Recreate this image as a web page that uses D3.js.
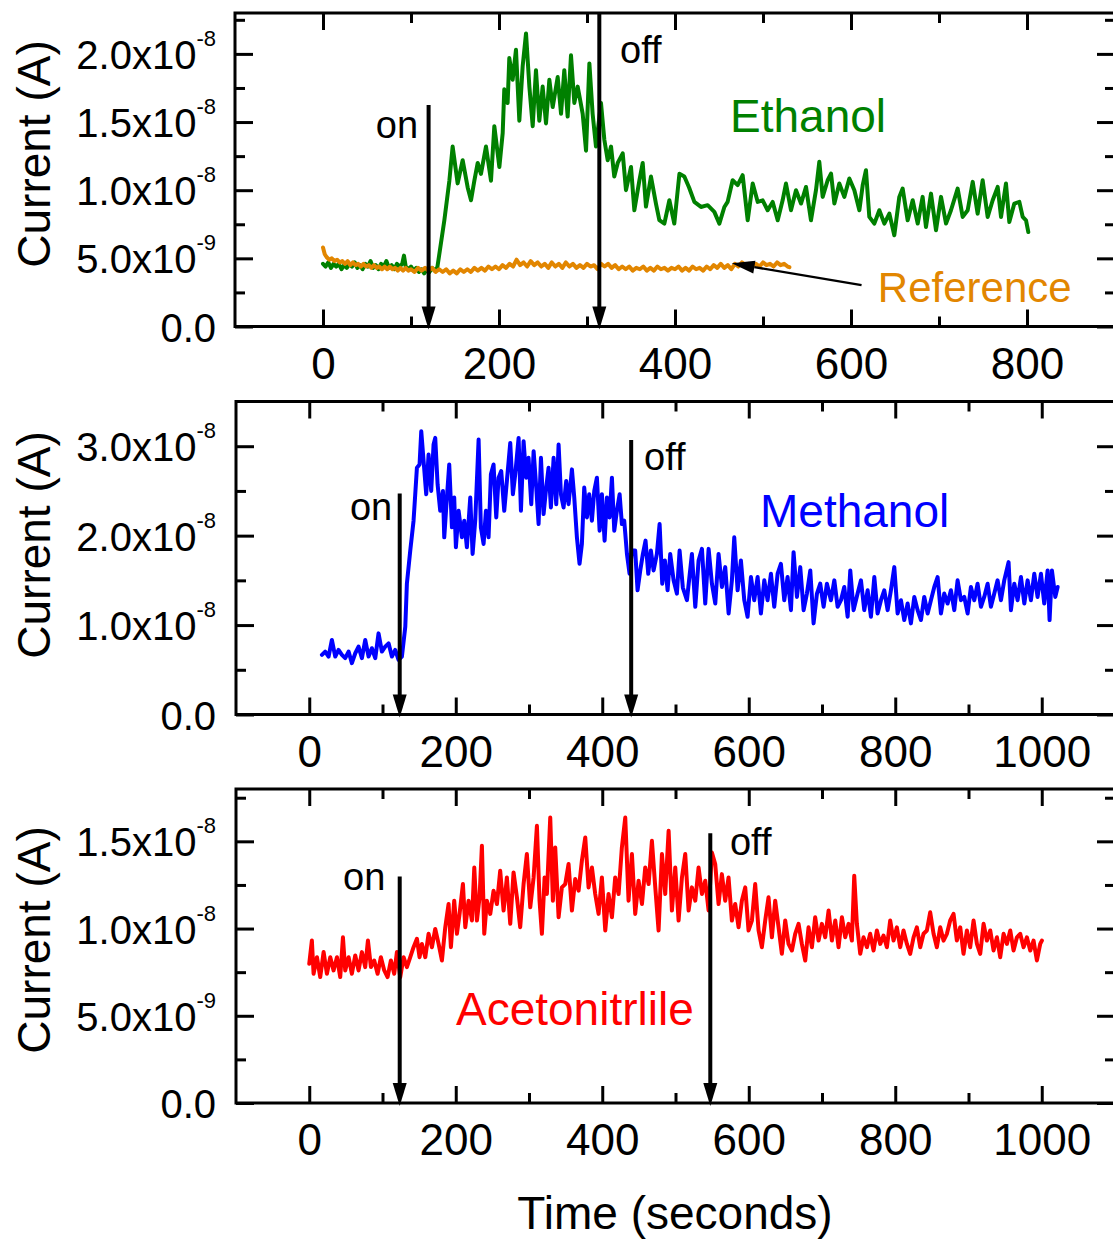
<!DOCTYPE html>
<html>
<head>
<meta charset="utf-8">
<script src="https://cdn.jsdelivr.net/npm/d3@7"></script>
<style>
  body { margin: 0; background: #fff; }
  svg { display: block; font-family: "Liberation Sans", Arial, sans-serif; }
</style>
</head>
<body>
<svg id="chart" width="1113" height="1239"></svg>
<script>
// time in seconds, current in nA (x1e-9 A)
const ethanol = [
  [0,4.6],[3,4.4],[6,4.7],[9,4.3],[12,4.6],[15,4.4],[18,4.6],[21,4.2],[24,4.5],[27,4.3],[30,4.6],[33,4.4],
  [36,4.7],[39,4.3],[42,4.5],[45,4.2],[48,4.6],[51,4.4],[54,4.8],[57,4.3],[60,4.5],[63,4.2],[66,4.6],[69,4.4],
  [72,4.8],[75,4.3],[78,4.5],[81,4.2],[84,4.6],[87,4.4],[90,4.6],[92,5.2],[94,4.4],[97,4.2],[100,4.4],[103,4.1],
  [106,4.3],[109,4.0],[112,4.2],[115,3.9],[118,4.2],[121,4.0],[124,4.3],[127,4.1],[130,4.36],
  [137.9,7.79],[143.6,10.7],[147.3,13.2],[153,10.5],[158.7,12.2],[164.4,10.2],[168.2,9.26],[172,10.7],[175.8,12.0],
  [179.5,11.2],[185.2,13.2],[190.9,10.7],[194.7,14.7],[200.4,11.7],[204.2,14.2],[206,17.4],[209.8,16.4],[211.7,19.7],
  [215.5,18.1],[219.3,20.3],[223.1,15.1],[226.9,19.1],[230.7,21.5],[234.5,17.6],[238.3,14.7],[242,18.8],[245.8,15.1],
  [249.6,17.6],[253.4,14.9],[257.2,18.1],[261,16.1],[266.7,18.3],[270.5,15.6],[274.2,18.8],[278,15.4],[281.8,19.9],
  [285.6,16.4],[289.4,17.6],[295.1,15.6],[298.9,12.9],[302.7,19.3],[306.4,15.6],[310.2,13.2],[315.9,16.4],[319.7,13.7],
  [323.5,12.2],[327.3,13.2],[331,11.0],[334.9,12.0],[340.6,12.7],[344.3,10.0],[350,11.7],[353.8,8.53],[359.5,10.7],
  [363.3,12.0],[367,8.8],[372.7,11.0],[378.4,9.0],[382.2,7.8],[387.9,7.55],[393.6,9.26],[399.2,7.55],[405,11.2],
  [410.6,11.0],[416,10.2],[422,9.14],[429.5,8.77],[437.1,8.9],[444.7,8.41],[450.4,7.55],[456.1,8.77],[459.8,9.14],
  [465.5,10.73],[471.2,10.37],[476.9,11.1],[482.6,7.79],[488.3,10.49],[494,9.14],[499.6,9.26],[505.3,8.53],[511,9.14],
  [516.7,7.79],[522.3,9.26],[526.1,10.49],[531.8,8.53],[537.5,10.0],[543.2,9.02],[548.9,10.24],[554.5,7.79],[560.2,10.0],
  [564,12.08],[567.8,9.51],[573.5,10.73],[577.3,11.22],[581.1,9.02],[586.7,10.49],[592.4,9.51],[598.1,10.86],[603.8,10.0],
  [609.5,8.53],[613.3,10.37],[617,11.47],[620.8,8.04],[626.5,7.55],[632.2,8.53],[637.9,7.55],[643.6,8.28],[649.2,6.69],
  [654.9,9.51],[658.7,10.12],[664.4,7.79],[670.1,9.26],[675.8,7.55],[681.4,9.51],[685.2,7.3],[690.9,9.75],[696.6,7.06],
  [702.3,9.51],[708,7.55],[713.6,8.53],[721.2,10.12],[726.9,8.04],[732.6,8.53],[738.3,10.61],[743.9,8.28],[749.6,10.73],
  [755.3,8.04],[761,9.26],[766.7,10.24],[770.5,8.04],[776.1,10.49],[779.9,7.67],[785.6,9.02],[791.3,9.14],[795.1,8.04],
  [798.9,7.79],[801.5,6.93]
];

const reference = [
  [0,5.8],[2,5.3],[4,5.1],[7,4.9],[10,5.0],[13,4.8],[16,4.9],[19,4.7],[22,4.8],[25,4.6],[28,4.8],[31,4.5],[34,4.7],
  [37,4.5],[40,4.6],[43,4.4],[46,4.6],[49,4.4],[52,4.5],[55,4.3],[58,4.5],[61,4.3],[64,4.4],[67,4.2],[70,4.4],[73,4.2],
  [76,4.4],[79,4.2],[82,4.3],[85,4.1],[88,4.3],[91,4.1],[94,4.3],[97,4.1],[100,4.2],[104,4.0],[108,4.3],[112,4.1],
  [116,4.3],[120,4.1],[124,4.3],[128,4.0],[132,4.2],[136,4.0],[140,4.2],[144,3.9],[148,4.1],[152,3.9],[156,4.2],
  [160,4.0],[164,4.2],[168,4.0],[172,4.3],[176,4.1],[180,4.3],[184,4.1],[188,4.4],[192,4.2],[196,4.4],[200,4.2],
  [204,4.5],[208,4.3],[212,4.6],[216,4.4],[220,4.9],[224,4.5],[228,4.7],[232,4.4],[236,4.8],[240,4.5],[244,4.7],
  [248,4.4],[252,4.6],[256,4.3],[260,4.7],[264,4.4],[268,4.6],[272,4.3],[276,4.7],[280,4.4],[284,4.6],[288,4.3],
  [292,4.5],[296,4.3],[300,4.6],[304,4.4],[308,4.5],[312,4.2],[316,4.6],[320,4.4],[324,4.6],[328,4.3],[332,4.5],
  [336,4.2],[340,4.4],[344,4.2],[348,4.4],[352,4.1],[356,4.3],[360,4.2],[364,4.4],[368,4.1],[372,4.3],[376,4.1],
  [380,4.4],[384,4.2],[388,4.3],[392,4.1],[396,4.3],[400,4.2],[404,4.4],[408,4.1],[412,4.3],[416,4.1],[420,4.4],
  [424,4.2],[428,4.3],[432,4.1],[436,4.4],[440,4.2],[444,4.5],[448,4.3],[452,4.6],[456,4.3],[460,4.5],[464,4.2],
  [468,4.6],[472,4.4],[476,4.7],[480,4.5],[484,4.6],[488,4.4],[492,4.6],[496,4.4],[500,4.7],[504,4.5],[508,4.6],
  [512,4.4],[516,4.7],[520,4.5],[524,4.6],[528,4.4],[530,4.35]
];

const methanol = [
  [17.3,6.67],[21.8,7.04],[26.4,6.48],[30.9,8.33],[35.5,6.48],[40,7.22],[44.6,6.67],[49.1,6.3],[53.7,7.04],[58.2,5.74],
  [62.8,6.85],[67.3,7.59],[71.9,6.3],[76.4,8.33],[81,6.48],[85.5,7.41],[90.1,6.3],[94.6,9.07],[99.2,7.04],[103.7,7.59],
  [108.3,7.96],[112.8,6.48],[117.4,7.22],[121.9,6.11],[126.5,6.48],[131.1,9.81],[133.3,14.63],[137.9,18.33],[142.4,21.67],
  [144.7,24.63],[147,27.6],[150.6,27.96],[152.9,31.67],[156.1,28.33],[159.7,24.63],[162.9,29.07],[166.5,25.0],[169.7,30.19],
  [172,30.93],[175.2,25.74],[178.8,22.78],[182.5,25.0],[184.3,19.81],[187.9,24.26],[191.1,27.96],[194.8,20.93],[197.9,24.26],
  [200.2,18.7],[203.9,22.78],[208.4,19.81],[211.6,21.67],[215.2,18.7],[219.8,24.26],[223,17.96],[226.6,21.67],[231.2,30.74],
  [234.3,20.93],[238,19.07],[241.2,22.78],[244.8,19.81],[248,26.85],[251.6,27.96],[255.3,22.04],[258.5,26.48],[262.1,27.22],
  [266.2,22.78],[269.8,26.11],[274.4,30.37],[278,24.63],[281.2,26.85],[285.8,30.93],[289,22.78],[292.6,30.56],[296.2,26.48],
  [299.4,28.7],[303.1,23.52],[306.3,29.44],[309.9,25.37],[313.1,21.3],[316.3,28.7],[319.9,22.41],[323.5,25.37],[326.7,27.59],
  [329.9,23.15],[333.6,28.7],[337.2,23.52],[340.4,30.19],[343.6,24.63],[347.2,23.15],[350.8,26.11],[354,23.52],[358.6,27.41],
  [361.8,24.26],[365.4,19.81],[369,16.85],[372.2,19.07],[375.4,25.37],[379.1,22.04],[382.2,24.63],[385.9,21.67],[389.1,25.0],
  [392.7,26.48],[396.4,20.56],[399.5,24.63],[403.2,19.44],[406.4,24.26],[410,22.04],[413.2,26.48],[416.4,20.56],[420,22.78],
  [423.7,24.63],[426.8,21.3],[430,21.67],[433.7,17.96],[437.3,15.74],[440.5,18.33],[445,18.33],[448.2,13.89],[451.9,16.11],
  [455.5,17.96],[459.1,19.44],[462.8,15.74],[466.4,18.33],[470.1,16.11],[474.6,17.96],[478.3,21.3],[481.9,14.63],[485.5,17.22],
  [489.2,13.89],[492.8,17.96],[497.4,15.0],[501.9,13.52],[505.6,18.33],[510,14.2],[515.6,12.78],[522.4,17.96],[527,12.04],
  [531.5,17.22],[536.1,18.52],[540.6,12.41],[545.2,18.52],[549.7,14.63],[554.3,12.41],[558.8,17.96],[563.4,14.26],[567.9,16.48],
  [572.5,11.3],[577,15.0],[580.2,19.81],[584.8,13.89],[589.3,17.22],[593.9,12.78],[598.4,10.93],[603,15.37],[607.5,12.78],
  [612.1,15.37],[616.6,11.3],[621.2,15.0],[625.7,12.78],[630.3,15.74],[634.8,12.04],[639.4,15.74],[643.9,16.85],[648.5,12.78],
  [653,15.37],[657.6,11.67],[661.2,18.15],[665.8,13.15],[670.3,16.48],[674.9,11.67],[679.4,13.52],[684,16.11],[688.5,10.19],
  [693.1,13.52],[697.6,14.63],[702.2,12.04],[706.7,14.63],[712.2,12.78],[716.8,15.0],[721.3,12.04],[725.9,12.78],[730.4,14.26],
  [735,10.93],[738.6,16.11],[743.1,11.67],[748.6,13.52],[753.2,15.0],[757.7,11.67],[762.3,13.89],[766.8,10.93],[771.4,15.37],
  [775.9,11.3],[780.5,12.78],[785,13.89],[789.6,11.67],[794.1,13.89],[798.7,16.48],[803.2,11.3],[807.8,12.78],[812.3,10.56],
  [816.9,12.41],[821.4,10.19],[826,13.15],[830.5,11.67],[835.1,10.56],[839.6,13.15],[844.2,11.3],[848.7,12.78],[853.3,14.26],
  [857.8,15.37],[862.4,11.3],[866.9,13.52],[871.5,12.41],[876,13.89],[880.6,11.67],[885.1,15.0],[889.7,12.78],[894.2,13.15],
  [898.8,11.3],[903.3,14.26],[907.9,12.78],[912.4,14.63],[917,12.04],[921.5,13.15],[926.1,14.63],[930.6,12.04],[935.2,13.52],
  [939.7,15.0],[944.3,12.78],[948.8,15.0],[954.7,17.04],[957.9,11.67],[962.5,14.63],[967,12.78],[971.6,15.37],[976.2,12.41],
  [980.7,15.0],[985.2,12.78],[989.8,15.74],[994.3,13.15],[998.9,15.74],[1003.4,12.41],[1008,16.11],[1010.7,10.56],[1013.9,16.11],
  [1018.5,13.15],[1021.7,14.26]
];

const acetonitrile = [
  [0,7.98],[3.6,9.31],[5.9,7.41],[10.5,8.36],[15,7.22],[19.6,8.65],[24.1,7.41],[28.7,8.36],[33.2,7.6],[37.8,8.36],[42.3,7.22],
  [46,9.5],[49.1,7.6],[53.7,8.36],[58.2,7.41],[62.8,8.46],[67.3,7.6],[71.9,8.65],[76.4,7.79],[80.1,9.31],[84.2,7.79],[88.7,8.17],
  [93.3,7.41],[97.8,8.36],[102.4,7.6],[106.9,7.22],[111.5,8.17],[116,7.41],[119.7,8.65],[124.2,7.22],[128.8,8.36],[133.3,7.79],
  [137.9,8.36],[142.4,8.93],[147,9.41],[150.6,8.36],[153.8,9.12],[158.4,8.36],[162.9,9.7],[167.5,8.93],[172,9.98],[176.6,9.12],
  [181.1,8.17],[185.7,10.08],[190.2,11.41],[193.4,8.93],[197.9,11.6],[201.6,9.7],[205.2,10.84],[209.8,12.55],[213,10.08],
  [217.5,11.6],[222.1,10.46],[225.3,13.5],[228.9,10.46],[232.5,11.79],[235.7,14.74],[238.9,9.7],[242.5,11.6],[247.1,10.84],
  [251.6,12.17],[256.2,11.41],[260.7,13.31],[265.3,11.03],[269.8,12.93],[274.4,10.27],[278.9,13.22],[283.5,11.79],[288,10.08],
  [292.6,12.55],[297.1,14.27],[301.7,11.22],[306.3,12.93],[310.8,15.89],[314.4,11.6],[317.6,9.7],[321.3,12.93],[324.4,11.98],
  [329,16.36],[332.6,11.6],[335.8,14.65],[340.4,10.65],[344.9,12.36],[349.5,12.55],[354,13.7],[358.6,11.03],[363.1,12.84],
  [367.7,12.17],[372.2,13.89],[376.8,15.22],[381.3,12.36],[385.9,13.5],[390.4,11.98],[395,10.84],[399.5,12.93],[404.1,9.89],
  [408.6,11.98],[413.2,10.65],[417.7,12.93],[422.3,11.98],[426.8,14.65],[431.4,16.36],[435.9,11.6],[440.5,14.27],[445,10.84],
  [449.6,12.74],[454.2,11.41],[458.7,13.5],[463.3,12.55],[467.8,15.03],[472.4,12.36],[476.9,9.89],[481.5,14.27],[486,11.98],
  [490.6,15.6],[495.1,11.03],[499.7,13.5],[504.2,10.46],[508.8,12.93],[513.3,14.27],[517.9,11.03],[522.4,12.36],[527,11.6],
  [531.5,13.5],[536.1,11.98],[540.6,12.74],[545.2,11.03],[549.7,14.36],[554.2,13.7],[558.8,11.41],[563.3,13.12],[567.9,11.6],
  [572.4,12.93],[577,10.46],[581.5,11.41],[586.1,10.07],[590.6,11.6],[595.2,12.36],[599.7,9.89],[604.3,10.46],[608.8,12.55],
  [613.4,9.89],[617.9,8.93],[622.5,10.46],[627,11.79],[631.6,9.5],[636.1,11.6],[640.7,10.07],[645.2,8.55],[649.8,10.46],
  [654.3,9.12],[658.9,8.74],[663.4,9.7],[668,10.27],[672.5,9.12],[677.1,8.17],[681.6,10.07],[686.2,8.93],[690.7,10.65],
  [695.3,9.31],[699.8,10.27],[704.4,9.5],[709,11.03],[713.5,9.31],[718.1,10.46],[722.6,8.93],[727.2,10.65],[731.7,9.5],
  [736.3,10.27],[740.8,9.31],[744,13.03],[747.6,10.27],[752.2,8.55],[756.7,9.5],[761.3,8.93],[765.8,9.7],[770.4,8.74],
  [774.9,9.89],[779.5,9.12],[784,9.6],[788.6,8.93],[793.1,10.46],[797.7,9.31],[802.2,10.07],[806.8,8.93],[811.3,9.89],
  [815.9,9.12],[820.4,8.55],[825,9.5],[829.5,10.07],[834.1,8.93],[838.6,9.7],[843.2,9.89],[847.7,10.93],[852.3,9.7],
  [856.8,8.93],[861.4,10.07],[865.9,9.31],[870.5,9.7],[875,10.46],[879.6,10.84],[884.1,9.31],[888.7,10.07],[893.2,8.55],
  [897.8,9.89],[902.3,8.93],[906.9,10.46],[911.5,9.12],[916,8.55],[920.6,10.27],[925.1,9.31],[929.7,9.89],[934.2,8.74],
  [938.8,9.5],[943.3,8.36],[947.9,9.7],[952.4,9.12],[957,9.89],[961.5,8.74],[966.1,9.5],[970.6,9.7],[975.2,8.93],
  [979.7,9.5],[984.3,8.74],[988.8,9.31],[993.4,8.17],[997.9,9.12],[1000.2,9.31]
];

// axis ticks
const xTicksEthanol = [0, 200, 400, 600, 800];
const xTicksLong = [0, 200, 400, 600, 800, 1000];
const yTicksEthanol = [0, 5, 10, 15, 20];
const yTicksMethanol = [0, 10, 20, 30];
const yTicksAceto = [0, 5, 10, 15];

// gas on / off times (s)
const onOffTimes = [[120, 314], [123.5, 439.5], [123.5, 547.5]];

const GREEN = "#008000", ORANGE = "#E28600", BLUE = "#0000FF", RED = "#FF0000";

const svg = d3.select("#chart");

const panels = [
  { xr: [235, 1115], xd: [-100, 900], top: 13, bottom: 326.5, yMax: 23, yStep: 5, xTicks: xTicksEthanol, yTicks: yTicksEthanol,
    series: [{ data: ethanol, color: GREEN }, { data: reference, color: ORANGE }],
    titleY: 154, onOff: onOffTimes[0], arrowTop: [16.25, 23],
    onText: [60, 13.83], offText: [337.5, 19.33],
    labels: [{ text: "Ethanol", t: 462.5, v: 14.27, color: GREEN }, { text: "Reference", t: 630.5, v: 1.8, color: ORANGE, size: 42 }] },
  { xr: [236, 1115], xd: [-100, 1100], top: 401.5, bottom: 714.5, yMax: 35, yStep: 10, xTicks: xTicksLong, yTicks: yTicksMethanol,
    series: [{ data: methanol, color: BLUE }],
    titleY: 545, onOff: onOffTimes[1], arrowTop: [24.7, 30.7],
    onText: [55.6, 21.75], offText: [457, 27.34],
    labels: [{ text: "Methanol", t: 615.4, v: 20.97, color: BLUE }] },
  { xr: [236, 1115], xd: [-100, 1100], top: 789, bottom: 1103, yMax: 18, yStep: 5, xTicks: xTicksLong, yTicks: yTicksAceto,
    series: [{ data: acetonitrile, color: RED }],
    titleY: 940, onOff: onOffTimes[2], arrowTop: [12.98, 15.46],
    onText: [46.1, 12.21], offText: [574.4, 14.22],
    labels: [{ text: "Acetonitrlile", t: 200.3, v: 4.47, color: RED }] }
];

function sciParts(v) {
  if (v === 0) return ["0.0", null];
  const a = v * 1e-9;
  const e = Math.floor(Math.log10(a) + 1e-9);
  const m = a / Math.pow(10, e);
  return [m.toFixed(1) + "x10", String(e)];
}

function styleAxis(sel, fontSize) {
  sel.select(".domain").remove();
  sel.selectAll("line").attr("stroke", "#000").attr("stroke-width", 3);
  sel.attr("font-family", null).attr("font-size", fontSize);
  sel.selectAll("text").attr("fill", "#000");
}

function vArrow(g, x, yTop, yTip) {
  g.append("line").attr("x1", x).attr("x2", x).attr("y1", yTop).attr("y2", yTip - 14)
    .attr("stroke", "#000").attr("stroke-width", 4);
  g.append("path").attr("d", `M${x - 7},${yTip - 23}L${x + 7},${yTip - 23}L${x},${yTip}Z`).attr("fill", "#000");
}

panels.forEach(p => {
  const x = d3.scaleLinear().domain(p.xd).range(p.xr);
  const y = d3.scaleLinear().domain([0, p.yMax]).range([p.bottom, p.top]);
  const g = svg.append("g");

  // data
  const line = d3.line().x(d => x(d[0])).y(d => y(d[1]));
  p.series.forEach(s => {
    g.append("path").datum(s.data).attr("d", line)
      .attr("fill", "none").attr("stroke", s.color).attr("stroke-width", 4)
      .attr("stroke-linejoin", "round").attr("stroke-linecap", "round");
  });

  // minor ticks
  const xMinor = d3.range(-100, 1101, 100).filter(v => v % 200 !== 0 && v > p.xd[0] && v < p.xd[1]);
  const yMinor = d3.range(p.yStep / 2, p.yMax, p.yStep);

  const bottom = g.append("g").attr("transform", `translate(0,${p.bottom})`)
    .call(d3.axisBottom(x).tickValues(p.xTicks).tickSize(-17).tickPadding(21).tickFormat(d3.format("d")));
  styleAxis(bottom, 44);
  styleAxis(g.append("g").attr("transform", `translate(0,${p.bottom})`)
    .call(d3.axisBottom(x).tickValues(xMinor).tickSize(-10).tickFormat("")), 10);
  styleAxis(g.append("g").attr("transform", `translate(0,${p.top})`)
    .call(d3.axisTop(x).tickValues(p.xTicks).tickSize(-17).tickFormat("")), 10);
  styleAxis(g.append("g").attr("transform", `translate(0,${p.top})`)
    .call(d3.axisTop(x).tickValues(xMinor).tickSize(-10).tickFormat("")), 10);
  styleAxis(g.append("g").attr("transform", `translate(${p.xr[0]},0)`)
    .call(d3.axisLeft(y).tickValues(p.yTicks).tickSize(-18).tickFormat("")), 10);
  styleAxis(g.append("g").attr("transform", `translate(${p.xr[0]},0)`)
    .call(d3.axisLeft(y).tickValues(yMinor).tickSize(-10).tickFormat("")), 10);
  styleAxis(g.append("g").attr("transform", `translate(${p.xr[1]},0)`)
    .call(d3.axisRight(y).tickValues(p.yTicks).tickSize(-18).tickFormat("")), 10);
  styleAxis(g.append("g").attr("transform", `translate(${p.xr[1]},0)`)
    .call(d3.axisRight(y).tickValues(yMinor).tickSize(-10).tickFormat("")), 10);

  // y tick labels with superscript exponent
  p.yTicks.forEach(v => {
    const [main, exp] = sciParts(v);
    const t = g.append("text").attr("x", 216).attr("y", y(v) + 15)
      .attr("text-anchor", "end").attr("font-size", 40).attr("fill", "#000");
    t.append("tspan").text(main);
    if (exp) t.append("tspan").attr("font-size", 22).attr("dy", -23).text(exp);
  });

  // frame
  g.append("rect").attr("x", p.xr[0]).attr("y", p.top)
    .attr("width", p.xr[1] - p.xr[0]).attr("height", p.bottom - p.top)
    .attr("fill", "none").attr("stroke", "#000").attr("stroke-width", 3);

  // y title
  g.append("text").attr("transform", `translate(50,${p.titleY}) rotate(-90)`)
    .attr("text-anchor", "middle").attr("font-size", 46).attr("fill", "#000").text("Current (A)");

  // on / off arrows
  vArrow(g, x(p.onOff[0]), y(p.arrowTop[0]), y(0) + 3);
  vArrow(g, x(p.onOff[1]), y(p.arrowTop[1]), y(0) + 3);
  g.append("text").attr("x", x(p.onText[0])).attr("y", y(p.onText[1]))
    .attr("font-size", 38).attr("fill", "#000").text("on");
  g.append("text").attr("x", x(p.offText[0])).attr("y", y(p.offText[1]))
    .attr("font-size", 38).attr("fill", "#000").text("off");

  // series labels
  p.labels.forEach(l => {
    g.append("text").attr("x", x(l.t)).attr("y", y(l.v))
      .attr("font-size", l.size || 46).attr("fill", l.color).text(l.text);
  });

  // pointer from "Reference" label to the orange trace
  if (p.series.length > 1) {
    const x1 = x(612), y1 = y(3.04), x2 = x(464.4), y2 = y(4.64);
    const ang = Math.atan2(y2 - y1, x2 - x1);
    const L = 23, W = 6.5;
    const bx = x2 - L * Math.cos(ang), by = y2 - L * Math.sin(ang);
    g.append("line").attr("x1", x1).attr("y1", y1).attr("x2", bx).attr("y2", by)
      .attr("stroke", "#000").attr("stroke-width", 2.4);
    g.append("path").attr("d",
      `M${x2},${y2}L${bx - W * Math.sin(ang)},${by + W * Math.cos(ang)}L${bx + W * Math.sin(ang)},${by - W * Math.cos(ang)}Z`)
      .attr("fill", "#000");
  }
});

svg.append("text").attr("x", 675).attr("y", 1229).attr("text-anchor", "middle")
  .attr("font-size", 46).attr("fill", "#000").text("Time (seconds)");
</script>
</body>
</html>
